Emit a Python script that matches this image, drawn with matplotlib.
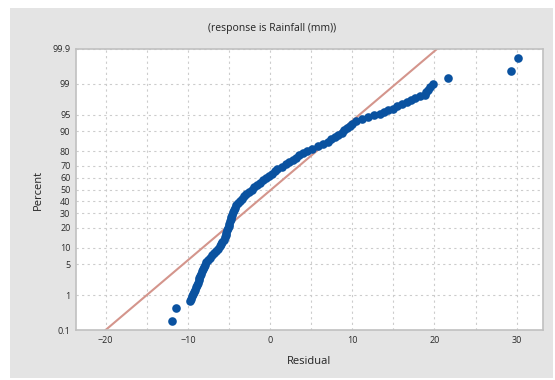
import numpy as np
import matplotlib
matplotlib.use("Agg")
import matplotlib.pyplot as plt
from matplotlib.patches import Rectangle
from matplotlib.ticker import FixedLocator, NullLocator
from statistics import NormalDist

# -----------------------------
# Data
# -----------------------------
residual = [
    -11.9, -11.4,
    -9.7, -9.6, -9.5, -9.4, -9.3, -9.15, -9.0, -8.9, -8.8, -8.7,
    -8.6, -8.5, -8.4, -8.3, -8.2, -8.05, -7.9, -7.75, -7.6, -7.35,
    -7.1, -6.85, -6.6, -6.35, -6.1, -5.95, -5.8, -5.65, -5.5, -5.4,
    -5.3, -5.2, -5.1, -5.0, -4.95, -4.9, -4.8, -4.7, -4.6, -4.5,
    -4.4, -4.25, -4.1, -3.9, -3.7, -3.45, -3.2, -2.9, -2.6, -2.25,
    -1.9, -1.55, -1.2, -0.85, -0.5, -0.15, 0.2, 0.55, 0.9, 1.4,
    1.9, 2.35, 2.8, 3.15, 3.5, 4.0, 4.5, 5.15, 5.8, 6.4,
    7.0, 7.45, 7.9, 8.3, 8.7, 9.05, 9.4, 9.7, 10.0, 10.4,
    11.2, 11.9, 12.6, 13.4, 13.9, 14.4, 15.0, 15.5, 16.1, 16.7,
    17.2, 17.6, 18.3, 18.9, 19.0, 19.2, 19.5, 19.8,
    21.7, 29.3, 30.2,
]
percent = [
    0.19, 0.47,
    0.71, 0.82, 0.94, 1.07, 1.22, 1.39, 1.58, 1.79, 2.02, 2.28,
    2.56, 2.87, 3.22, 3.59, 4.01, 4.46, 4.95, 5.48, 6.06, 6.68,
    7.35, 8.08, 8.85, 9.68, 10.57, 11.51, 12.51, 13.57, 14.69, 15.87,
    17.11, 18.41, 19.77, 21.19, 22.66, 24.20, 25.79, 27.43, 29.12, 30.85,
    32.64, 34.46, 36.32, 38.21, 40.13, 42.07, 44.04, 46.02, 48.01, 50.00,
    51.99, 53.98, 55.96, 57.93, 59.87, 61.79, 63.68, 65.54, 67.36, 69.15,
    70.88, 72.58, 74.22, 75.80, 77.34, 78.81, 80.23, 81.59, 82.89, 84.13,
    85.31, 86.43, 87.49, 88.49, 89.44, 90.32, 91.15, 91.92, 92.65, 93.32,
    93.94, 94.52, 94.85, 95.15, 95.54, 95.91, 96.25, 96.64, 96.93, 97.26,
    97.50, 97.78, 97.98, 98.12, 98.38, 98.57, 98.78, 98.98,
    99.27, 99.53, 99.81,
]

# fitted normal line end points
fit_x = [-20.0, 20.3]
fit_pct = [0.1, 99.9]

y_ticks = [0.1, 1, 5, 10, 20, 30, 40, 50, 60, 70, 80, 90, 95, 99, 99.9]
y_labels = ["0.1", "1", "5", "10", "20", "30", "40", "50", "60", "70",
            "80", "90", "95", "99", "99.9"]
x_ticks = [-20, -10, 0, 10, 20, 30]

# -----------------------------
# Normal probability scale
# -----------------------------
nd = NormalDist()
_ppf = np.vectorize(lambda v: nd.inv_cdf(v / 100.0), otypes=[float])
_cdf = np.vectorize(lambda v: nd.cdf(v) * 100.0, otypes=[float])


def to_z(p):
    p = np.clip(np.asarray(p, dtype=float), 1e-6, 100 - 1e-6)
    return _ppf(p)


def from_z(z):
    return _cdf(np.asarray(z, dtype=float))


# -----------------------------
# Plot
# -----------------------------
plt.rcParams["font.family"] = ["Open Sans", "DejaVu Sans"]

fig = plt.figure(figsize=(5.55, 3.8), dpi=100)
fig.patch.set_facecolor("white")
bg = Rectangle((10 / 555, 2 / 380), 543 / 555, 370 / 380,
               transform=fig.transFigure, facecolor="#e4e4e4",
               edgecolor="none", zorder=-10)
fig.add_artist(bg)

ax = fig.add_axes([76 / 555, 50 / 380, 467 / 555, 281 / 380])
ax.set_facecolor("white")
ax.set_yscale("function", functions=(to_z, from_z))
ax.set_ylim(0.1, 99.9)
ax.set_xlim(-23.6, 33.2)

ax.plot(fit_x, fit_pct, color="#d4958c", lw=1.5, zorder=2)
ax.plot(residual, percent, "o", color="#0a52a0", ms=6.2, mec="none", zorder=3)

ax.yaxis.set_major_locator(FixedLocator(y_ticks))
ax.yaxis.set_minor_locator(NullLocator())
ax.set_yticklabels(y_labels)
ax.set_xticks(x_ticks)
ax.set_xticks([-15, -5, 5, 15, 25], minor=True)

ax.grid(True, which="major", color="#cccccc", ls=(0, (2, 3)), lw=0.8)
ax.grid(True, which="minor", axis="x", color="#cccccc", ls=(0, (2, 3)), lw=0.8)
ax.set_axisbelow(True)

ax.tick_params(which="both", length=0, labelsize=6.5, labelcolor="#2a2a2a", pad=4)
for s in ax.spines.values():
    s.set_color("#c0c0c0")
    s.set_linewidth(1.2)

ax.set_xlabel("Residual", fontsize=8, color="#222222", labelpad=8)
ax.set_ylabel("Percent", fontsize=8, color="#222222", labelpad=6)
fig.text(0.49, 1 - 29 / 380, "(response is Rainfall (mm))", ha="center",
         va="center", fontsize=7.5, color="#222222")

fig.savefig("out.png", dpi=100)
